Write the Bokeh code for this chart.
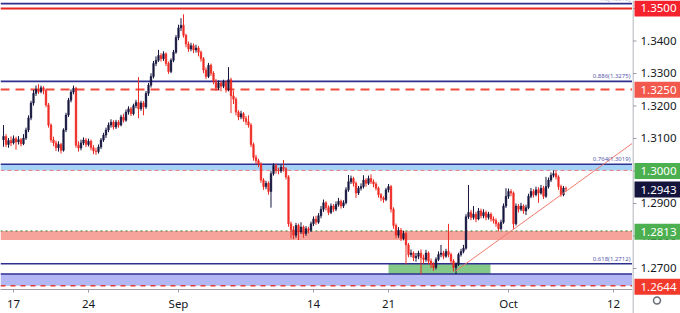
import numpy as np
from bokeh.plotting import figure
from bokeh.layouts import row
from bokeh.models import (Range1d, FixedTicker, Label, Span, BoxAnnotation,
                          ColumnDataSource)
from bokeh.embed import file_html
from bokeh.resources import INLINE

# ---------------- data (4-hour GBP/USD candles) ----------------
first_open = 1.3095
close = [
    1.3105, 1.3080, 1.3092, 1.3085, 1.3098, 1.3088, 1.3095, 1.3082, 1.3100, 1.3125,
    1.3162, 1.3208, 1.3238, 1.3250, 1.3243, 1.3255, 1.3246, 1.3202, 1.3140, 1.3094,
    1.3085, 1.3070, 1.3080, 1.3062, 1.3125, 1.3171, 1.3217, 1.3242, 1.3254, 1.3078,
    1.3069, 1.3085, 1.3094, 1.3080, 1.3090, 1.3070, 1.3060, 1.3058, 1.3072, 1.3094,
    1.3109, 1.3125, 1.3140, 1.3149, 1.3134, 1.3149, 1.3140, 1.3165, 1.3155, 1.3180,
    1.3190, 1.3175, 1.3200, 1.3210, 1.3190, 1.3208, 1.3196, 1.3238, 1.3263, 1.3290,
    1.3330, 1.3340, 1.3355, 1.3345, 1.3360, 1.3330, 1.3305, 1.3340, 1.3365, 1.3410,
    1.3440, 1.3448, 1.3417, 1.3390, 1.3375, 1.3385, 1.3372, 1.3378, 1.3365, 1.3345,
    1.3310, 1.3290, 1.3325, 1.3300, 1.3275, 1.3255, 1.3270, 1.3260, 1.3272, 1.3250,
    1.3280, 1.3230, 1.3220, 1.3180, 1.3165, 1.3175, 1.3160, 1.3150, 1.3140, 1.3080,
    1.3040, 1.3030, 1.3020, 1.2970, 1.2950, 1.2960, 1.2935, 1.2990, 1.3015, 1.3000,
    1.2998, 1.3010, 1.3005, 1.2980, 1.2835, 1.2817, 1.2800, 1.2830, 1.2810, 1.2825,
    1.2805, 1.2820, 1.2815, 1.2835, 1.2850, 1.2840, 1.2860, 1.2880, 1.2900, 1.2885,
    1.2870, 1.2890, 1.2880, 1.2895, 1.2905, 1.2890, 1.2900, 1.2940, 1.2965, 1.2975,
    1.2960, 1.2930, 1.2945, 1.2950, 1.2970, 1.2960, 1.2975, 1.2965, 1.2958, 1.2945,
    1.2925, 1.2915, 1.2910, 1.2940, 1.2950, 1.2880, 1.2830, 1.2800, 1.2815, 1.2790,
    1.2805, 1.2770, 1.2740, 1.2745, 1.2730, 1.2735, 1.2745, 1.2730, 1.2725, 1.2745,
    1.2720, 1.2710, 1.2700, 1.2725, 1.2740, 1.2745, 1.2735, 1.2750, 1.2740, 1.2720,
    1.2700, 1.2710, 1.2740, 1.2750, 1.2760, 1.2857, 1.2870, 1.2855, 1.2865, 1.2850,
    1.2875, 1.2860, 1.2870, 1.2855, 1.2865, 1.2850, 1.2845, 1.2835, 1.2820, 1.2840,
    1.2890, 1.2920, 1.2935, 1.2930, 1.2835, 1.2890, 1.2880, 1.2890, 1.2875, 1.2885,
    1.2920, 1.2935, 1.2925, 1.2940, 1.2930, 1.2945, 1.2920, 1.2950, 1.2970, 1.2985,
    1.2990, 1.2980, 1.2950, 1.2925, 1.2945, 1.2943,
]
high = [
    1.3140, 1.3112, 1.3100, 1.3105, 1.3108, 1.3104, 1.3106, 1.3100, 1.3112, 1.3132,
    1.3170, 1.3215, 1.3248, 1.3262, 1.3266, 1.3262, 1.3260, 1.3250, 1.3208, 1.3145,
    1.3104, 1.3092, 1.3090, 1.3085, 1.3130, 1.3178, 1.3224, 1.3250, 1.3262, 1.3258,
    1.3090, 1.3095, 1.3102, 1.3100, 1.3098, 1.3095, 1.3078, 1.3070, 1.3080, 1.3100,
    1.3116, 1.3132, 1.3148, 1.3158, 1.3155, 1.3156, 1.3155, 1.3172, 1.3175, 1.3188,
    1.3198, 1.3196, 1.3206, 1.3218, 1.3288, 1.3215, 1.3214, 1.3245, 1.3270, 1.3300,
    1.3338, 1.3352, 1.3372, 1.3362, 1.3368, 1.3364, 1.3336, 1.3346, 1.3372, 1.3418,
    1.3450, 1.3470, 1.3482, 1.3422, 1.3398, 1.3394, 1.3392, 1.3388, 1.3384, 1.3370,
    1.3350, 1.3318, 1.3332, 1.3330, 1.3306, 1.3282, 1.3278, 1.3276, 1.3280, 1.3278,
    1.3319, 1.3286, 1.3245, 1.3226, 1.3186, 1.3184, 1.3180, 1.3168, 1.3170, 1.3146,
    1.3086, 1.3048, 1.3036, 1.3025, 1.2976, 1.2968, 1.2966, 1.2998, 1.3022, 1.3020,
    1.3008, 1.3018, 1.3032, 1.3010, 1.2985, 1.2842, 1.2828, 1.2838, 1.2836, 1.2840,
    1.2830, 1.2828, 1.2826, 1.2842, 1.2858, 1.2860, 1.2868, 1.2890, 1.2910, 1.2905,
    1.2892, 1.2898, 1.2896, 1.2904, 1.2915, 1.2910, 1.2908, 1.2948, 1.2986, 1.2984,
    1.2980, 1.2966, 1.2952, 1.2960, 1.2985, 1.2976, 1.2984, 1.2988, 1.2972, 1.2964,
    1.2950, 1.2930, 1.2920, 1.2946, 1.2958, 1.2955, 1.2886, 1.2836, 1.2825, 1.2822,
    1.2814, 1.2810, 1.2776, 1.2756, 1.2750, 1.2745, 1.2752, 1.2756, 1.2740, 1.2755,
    1.2750, 1.2728, 1.2716, 1.2732, 1.2750, 1.2770, 1.2752, 1.2758, 1.2835, 1.2746,
    1.2726, 1.2716, 1.2746, 1.2758, 1.2770, 1.2865, 1.2955, 1.2878, 1.2890, 1.2872,
    1.2884, 1.2882, 1.2880, 1.2876, 1.2872, 1.2870, 1.2858, 1.2852, 1.2840, 1.2848,
    1.2898, 1.2945, 1.2944, 1.2942, 1.2935, 1.2898, 1.2896, 1.2900, 1.2895, 1.2894,
    1.2928, 1.2946, 1.2942, 1.2950, 1.2948, 1.2955, 1.2952, 1.2980, 1.2978, 1.2994,
    1.3000, 1.2998, 1.2985, 1.2956, 1.2952, 1.2950,
]
low = [
    1.3073, 1.3072, 1.3070, 1.3075, 1.3080, 1.3064, 1.3080, 1.3074, 1.3078, 1.3094,
    1.3118, 1.3155, 1.3200, 1.3230, 1.3236, 1.3238, 1.3235, 1.3195, 1.3132, 1.3086,
    1.3075, 1.3060, 1.3058, 1.3052, 1.3058, 1.3118, 1.3165, 1.3210, 1.3235, 1.3070,
    1.3058, 1.3062, 1.3078, 1.3072, 1.3074, 1.3062, 1.3050, 1.3048, 1.3052, 1.3066,
    1.3088, 1.3100, 1.3118, 1.3132, 1.3126, 1.3128, 1.3132, 1.3136, 1.3148, 1.3150,
    1.3172, 1.3168, 1.3170, 1.3192, 1.3161, 1.3184, 1.3170, 1.3190, 1.3230, 1.3256,
    1.3284, 1.3322, 1.3335, 1.3336, 1.3338, 1.3322, 1.3298, 1.3300, 1.3334, 1.3360,
    1.3402, 1.3430, 1.3410, 1.3380, 1.3366, 1.3368, 1.3362, 1.3364, 1.3352, 1.3336,
    1.3300, 1.3282, 1.3285, 1.3292, 1.3266, 1.3246, 1.3248, 1.3244, 1.3254, 1.3240,
    1.3244, 1.3177, 1.3205, 1.3170, 1.3155, 1.3158, 1.3150, 1.3140, 1.3132, 1.3072,
    1.3030, 1.3020, 1.3010, 1.2962, 1.2940, 1.2942, 1.2925, 1.2885, 1.2984, 1.2990,
    1.2988, 1.2992, 1.2996, 1.2972, 1.2826, 1.2790, 1.2788, 1.2792, 1.2785, 1.2804,
    1.2792, 1.2798, 1.2806, 1.2810, 1.2828, 1.2832, 1.2835, 1.2852, 1.2872, 1.2876,
    1.2862, 1.2865, 1.2872, 1.2874, 1.2888, 1.2882, 1.2884, 1.2895, 1.2934, 1.2958,
    1.2950, 1.2915, 1.2924, 1.2938, 1.2944, 1.2950, 1.2955, 1.2958, 1.2948, 1.2938,
    1.2916, 1.2905, 1.2900, 1.2905, 1.2932, 1.2870, 1.2820, 1.2790, 1.2792, 1.2782,
    1.2784, 1.2710, 1.2732, 1.2732, 1.2720, 1.2718, 1.2726, 1.2679, 1.2712, 1.2718,
    1.2710, 1.2698, 1.2690, 1.2694, 1.2720, 1.2732, 1.2726, 1.2730, 1.2732, 1.2712,
    1.2688, 1.2680, 1.2705, 1.2734, 1.2744, 1.2755, 1.2850, 1.2846, 1.2848, 1.2840,
    1.2846, 1.2852, 1.2852, 1.2846, 1.2848, 1.2842, 1.2836, 1.2826, 1.2812, 1.2815,
    1.2835, 1.2884, 1.2912, 1.2920, 1.2820, 1.2830, 1.2870, 1.2874, 1.2866, 1.2862,
    1.2880, 1.2914, 1.2916, 1.2920, 1.2900, 1.2925, 1.2912, 1.2915, 1.2944, 1.2964,
    1.2978, 1.2972, 1.2940, 1.2919, 1.2920, 1.2935,
]
BARS_PER_DAY = 6           # 4-hour bars per trading day
FIRST_BAR = -4             # first bar, counted from Mon 17 Aug open

# x axis (trading-day index; 0 = 17 Aug)
x_ticks = [0, 5, 11, 20, 25, 33, 40]
x_tick_labels = ["17", "24", "Sep", "14", "21", "Oct", "12"]
y_ticks = [1.27, 1.28, 1.29, 1.30, 1.31, 1.32, 1.33, 1.34, 1.35]

# annotated levels
blue_levels = [1.3515, 1.3275, 1.3019, 1.2712, 1.2680]
fib_ratios = ["1.0", "0.886", "0.764", "0.618"]
fib_prices = [1.3515, 1.3275, 1.3019, 1.2712]
price_tags = [1.3500, 1.3250, 1.3000, 1.2943, 1.2813, 1.2644]
price_tag_colors = ["#f5222d", "#f2584c", "#4caf50", "#14143c", "#4caf50", "#f23a2c"]
zone_blue = [1.3000, 1.3019]
zone_red = [1.2785, 1.2813]
zone_lav = [1.2644, 1.2680]
zone_green = [25.0, 31.8, 1.2680, 1.2712]   # left, right, bottom, top
trend_t = [29.47, 41.27]
trend_p = [1.2689, 1.3084]

# ---------------- build ----------------
n = len(close)
opens = [first_open] + close[:-1]
xs = (np.arange(n) + FIRST_BAR) / BARS_PER_DAY
hi = np.maximum.reduce([np.array(high), np.array(opens), np.array(close)])
lo = np.minimum.reduce([np.array(low), np.array(opens), np.array(close)])
up = np.array(close) >= np.array(opens)
UP_C, DN_C = "#16163f", "#ee2b24"
src = ColumnDataSource(dict(
    x=xs, high=hi, low=lo,
    top=np.maximum(opens, close), bottom=np.minimum(opens, close),
    color=[UP_C if u else DN_C for u in up],
))

FONT = "Noto Sans"
AXIS_C = "#9a9ca3"
TXT_C = "#131722"
Y_TOP = 1.35246
PX_PER_PRICE = 3250.0

p = figure(width=632, height=313, output_backend="svg", toolbar_location=None,
           x_range=Range1d(-0.8667, 41.267),
           y_range=Range1d(Y_TOP - 290 / PX_PER_PRICE, Y_TOP),
           y_axis_location=None, min_border_left=0, min_border_top=0,
           min_border_right=0, min_border_bottom=23)
p.outline_line_color = None
p.grid.visible = False
p.frame_align = False

# zones
for (b, t, c) in [(zone_blue[0], zone_blue[1], "#a6d3f5"),
                  (zone_red[0], zone_red[1], "#f5a39b"),
                  (zone_lav[0], zone_lav[1], "#b3b7f3")]:
    p.add_layout(BoxAnnotation(bottom=b, top=t, fill_color=c, fill_alpha=1,
                               line_color=None, level="underlay"))
p.add_layout(BoxAnnotation(left=zone_green[0], right=zone_green[1],
                           bottom=zone_green[2], top=zone_green[3],
                           fill_color="#85c988", fill_alpha=1, line_color=None,
                           level="underlay"))

# level lines
for lv in blue_levels:
    p.add_layout(Span(location=lv, dimension="width", line_color="#2f2f8f",
                      line_width=1.6, level="underlay"))
p.add_layout(Span(location=1.3500, dimension="width", line_color="#e8251e",
                  line_width=2, level="underlay"))
p.add_layout(Span(location=1.3250, dimension="width", line_color="#ee4b3c",
                  line_width=2, line_dash="9 6", level="underlay"))
p.add_layout(Span(location=1.3000, dimension="width", line_color="#e88080",
                  line_width=1, line_dash="4 3", level="underlay"))
p.add_layout(Span(location=1.2813, dimension="width", line_color="#2e7d32",
                  line_width=1, line_dash="2 3", level="underlay"))
p.add_layout(Span(location=1.2644, dimension="width", line_color="#e53935",
                  line_width=1.5, line_dash="5 5", level="underlay"))

# candles
p.segment(x0="x", y0="low", x1="x", y1="high", color="color", line_width=1, source=src)
p.vbar(x="x", width=0.11, top="top", bottom="bottom", fill_color="color",
       line_color="color", line_width=0.5, source=src)

# trendline
p.line(trend_t, trend_p, line_color="#f07a6e", line_width=1)

# fib labels
for r, fp in zip(fib_ratios, fib_prices):
    p.add_layout(Label(x=41.13, y=fp, text=f"{r}({fp:.4f})", text_align="right",
                       text_baseline="bottom", y_offset=1, text_font_size="6px",
                       text_color="#5a5aaa", text_font=FONT))

xa = p.xaxis[0]
xa.ticker = FixedTicker(ticks=x_ticks)
xa.major_label_overrides = {t: l for t, l in zip(x_ticks, x_tick_labels)}
xa.major_label_text_font = FONT
xa.major_label_text_font_size = "11.5px"
xa.major_label_text_color = TXT_C
xa.axis_line_color = AXIS_C
xa.major_tick_line_color = AXIS_C
xa.major_tick_out = 3
xa.major_tick_in = 0
xa.minor_tick_line_color = None
xa.major_label_standoff = 3

# ---------------- right price scale (full height strip) ----------------
s_range = Range1d(Y_TOP - 313 / PX_PER_PRICE, Y_TOP)
s = figure(width=48, height=313, output_backend="svg", toolbar_location=None,
           x_range=Range1d(0, 48), y_range=s_range,
           x_axis_location=None, y_axis_location=None,
           min_border_left=0, min_border_top=0, min_border_right=0, min_border_bottom=0)
s.outline_line_color = None
s.grid.visible = False
s.frame_align = False
# scale line and ticks
s.segment(x0=[0.5], y0=[s_range.start], x1=[0.5], y1=[s_range.end],
          line_color=AXIS_C, line_width=1)
s.segment(x0=[0.5] * len(y_ticks), y0=y_ticks, x1=[4] * len(y_ticks), y1=y_ticks,
          line_color=AXIS_C, line_width=1)
s.text(x=[8] * len(y_ticks), y=y_ticks, text=[f"{t:.4f}" for t in y_ticks],
       text_font={"value": FONT}, text_font_size="11.5px", text_color=TXT_C,
       text_baseline="middle", text_align="left")
# price tags
s.rect(x=[25] * len(price_tags), y=price_tags, width=46, height=16,
       height_units="screen", fill_color=price_tag_colors, line_color=None)
s.text(x=[8] * len(price_tags), y=price_tags, text=[f"{t:.4f}" for t in price_tags],
       text_font={"value": FONT}, text_font_size="11.5px", text_color="white",
       text_baseline="middle", text_align="left")
# settings icon in the corner
s.scatter(x=[24.5], y=[Y_TOP - 300 / PX_PER_PRICE], size=7, marker="circle",
          fill_color=None, line_color="#6a6d78", line_width=1.5)

layout = row(p, s, spacing=0)
open("out.html", "w").write(file_html(layout, INLINE))
